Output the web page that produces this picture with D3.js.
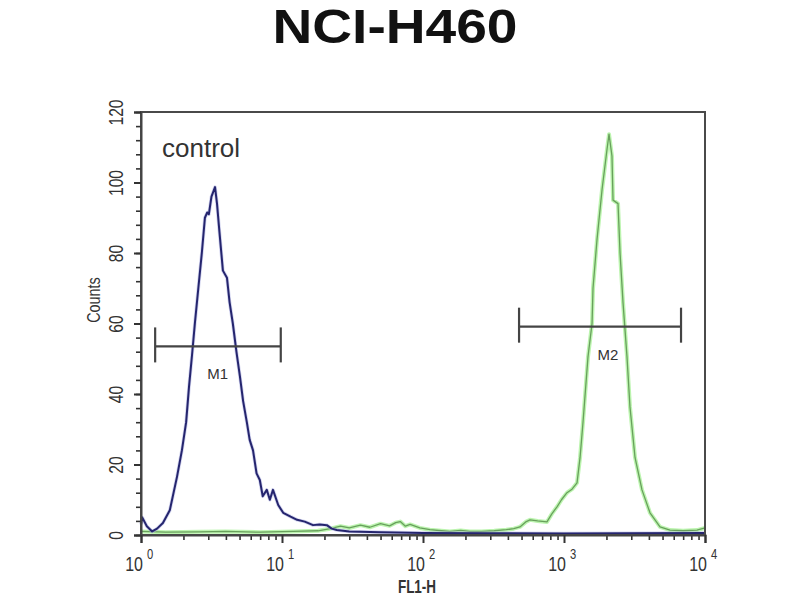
<!DOCTYPE html>
<html>
<head>
<meta charset="utf-8">
<script src="https://cdn.jsdelivr.net/npm/d3@7"></script>
<style>
  html, body { margin: 0; padding: 0; background: #fff; }
  svg { display: block; font-family: "Liberation Sans", Arial, sans-serif; }
</style>
</head>
<body>
<svg id="chart" width="800" height="600"></svg>
<script>
// ---- data ----
const title = "NCI-H460";
const xLabel = "FL1-H";
const yLabel = "Counts";
const sampleLabel = "control";

const yTicks = [0, 20, 40, 60, 80, 100, 120];
const xDecades = [1, 10, 100, 1000, 10000];
const xExponents = ["0", "1", "2", "3", "4"];

// control histogram (blue)
const controlX = [1.0, 1.02, 1.1, 1.2, 1.3, 1.43, 1.6, 1.8, 1.95, 2.09, 2.19, 2.3, 2.41, 2.55, 2.7, 2.84, 2.95, 3.03, 3.16, 3.35, 3.46, 3.6, 3.81, 4.07, 4.25, 4.48, 4.75, 5.03, 5.3, 5.63, 5.9, 6.23, 6.6, 6.96, 7.3, 7.8, 8.2, 8.63, 9.4, 10.2, 11.5, 12.8, 14.5, 16.6, 18.5, 20.8, 22.5, 24.5, 30, 50, 100, 300, 1000, 3000, 10000];
const controlY = [3, 5, 2.5, 1, 1.8, 3.4, 7, 16.5, 24, 32, 42, 51, 60, 70, 80, 90, 91.5, 91, 96, 98.7, 94, 86, 75, 73, 66, 60, 52, 45, 38, 32, 27, 24, 17.5, 15.6, 11, 12.8, 10, 12.8, 8.5, 6.3, 5.2, 4.3, 3.8, 2.8, 3.0, 2.8, 1.8, 1.4, 1.0, 0.8, 0.6, 0.5, 0.4, 0.5, 0.6];

// stained histogram (green)
const stainedX = [1.0, 1.5, 2.6, 4, 7, 12, 18, 22, 26, 30, 36, 42, 50, 58, 64, 69, 75, 81, 95, 112, 135, 155, 185, 215, 260, 320, 390, 440, 487, 540, 574, 650, 757, 820, 892, 960, 1050, 1140, 1237, 1300, 1364, 1480, 1581, 1606, 1716, 1862, 2020, 2086, 2189, 2227, 2416, 2497, 2621, 2797, 2936, 3189, 3574, 4073, 4796, 5646, 7000, 8770, 10000];
const stainedY = [1.0, 0.8, 0.9, 1.0, 0.8, 1.0, 1.2, 1.8, 2.5, 2.0, 2.8, 2.2, 3.2, 2.6, 3.5, 3.8, 2.5, 3.0, 2.0, 1.5, 1.2, 1.0, 1.3, 1.0, 1.0, 1.2, 1.5, 1.8, 2.3, 3.8, 4.3, 4.0, 3.7, 6, 8, 10, 12, 13, 14.8, 22, 32, 50.6, 60, 70, 84, 98, 109.5, 113.7, 107.5, 95, 94, 80, 66, 50.6, 36.4, 22, 12.8, 6.3, 2.3, 1.4, 1.2, 1.4, 2.0];

// gate markers
const gateNames = ["M1", "M2"];
const gateStart = [1.26, 480];
const gateEnd = [9.8, 6760];
const gateLevel = [53.5, 59.1];
const gateLabelX = [3.5, 2050];

// ---- drawing ----
const svg = d3.select("#chart");
const x = d3.scaleLog().domain([1, 10000]).range([141, 705]);
const y = d3.scaleLinear().domain([0, 120]).range([535, 112]);

// title
svg.append("text")
  .attr("x", 395).attr("y", 43)
  .attr("text-anchor", "middle")
  .attr("font-size", 48).attr("font-weight", "bold")
  .attr("textLength", 245).attr("lengthAdjust", "spacingAndGlyphs")
  .attr("fill", "#111")
  .text(title);

// curves
const lineGen = d3.line().x(d => x(d[0])).y(d => y(d[1]));
const controlData = controlX.map((v, i) => [v, controlY[i]]);
const stainedData = stainedX.map((v, i) => [v, stainedY[i]]);

svg.append("path").datum(stainedData)
  .attr("d", lineGen).attr("fill", "none")
  .attr("stroke", "#a6f094").attr("stroke-width", 4).attr("stroke-opacity", 0.75)
  .attr("stroke-linejoin", "round");
svg.append("path").datum(stainedData)
  .attr("d", lineGen).attr("fill", "none")
  .attr("stroke", "#68a05c").attr("stroke-width", 1.3)
  .attr("stroke-linejoin", "round");

svg.append("path").datum(controlData)
  .attr("d", lineGen).attr("fill", "none")
  .attr("stroke", "#b4b8e4").attr("stroke-width", 3.5).attr("stroke-opacity", 0.6)
  .attr("stroke-linejoin", "round");
svg.append("path").datum(controlData)
  .attr("d", lineGen).attr("fill", "none")
  .attr("stroke", "#25256e").attr("stroke-width", 2)
  .attr("stroke-linejoin", "round");

// frame
svg.append("rect")
  .attr("x", x(1)).attr("y", y(120))
  .attr("width", x(10000) - x(1)).attr("height", y(0) - y(120))
  .attr("fill", "none").attr("stroke", "#4a4a4a").attr("stroke-width", 2);

// y axis
const yMinor = d3.range(0, 121, 4);
svg.append("g").attr("transform", `translate(${x(1)},0)`)
  .call(d3.axisLeft(y).tickValues(yMinor).tickSize(5).tickFormat(""))
  .call(g => g.select(".domain").remove())
  .selectAll("line").attr("stroke", "#333").attr("stroke-width", 1.6);
const yAx = svg.append("g").attr("transform", `translate(${x(1)},0)`)
  .call(d3.axisLeft(y).tickValues(yTicks).tickSize(7).tickFormat(d3.format("d")));
yAx.select(".domain").attr("stroke", "#444").attr("stroke-width", 2);
yAx.selectAll("line").attr("stroke", "#333").attr("stroke-width", 2);
yAx.selectAll("text")
  .attr("x", 0).attr("y", 0).attr("dy", null)
  .attr("transform", "translate(-18,0) rotate(-90) scale(0.78,1)")
  .attr("text-anchor", "middle")
  .attr("font-size", 20).attr("fill", "#333");

// x axis
const xMinor = [];
for (let k = 0; k < 4; k++) for (let m = 2; m <= 9; m++) xMinor.push(m * Math.pow(10, k));
svg.append("g").attr("transform", `translate(0,${y(0)})`)
  .call(d3.axisBottom(x).tickValues(xMinor).tickSize(5).tickFormat(""))
  .call(g => g.select(".domain").remove())
  .selectAll("line").attr("stroke", "#333").attr("stroke-width", 1.6);
const xAx = svg.append("g").attr("transform", `translate(0,${y(0)})`)
  .call(d3.axisBottom(x).tickValues(xDecades).tickSize(8).tickFormat(""));
xAx.select(".domain").attr("stroke", "#444").attr("stroke-width", 2);
xAx.selectAll("line").attr("stroke", "#333").attr("stroke-width", 2);

xDecades.forEach((d, i) => {
  svg.append("text")
    .attr("transform", `translate(${x(d) + 2},571) scale(0.8,1)`)
    .attr("text-anchor", "end")
    .attr("font-size", 20).attr("fill", "#333")
    .text("10");
  svg.append("text")
    .attr("transform", `translate(${x(d) + 6},559) scale(0.8,1)`)
    .attr("font-size", 14).attr("fill", "#333")
    .text(xExponents[i]);
});

// axis labels
svg.append("text")
  .attr("transform", "translate(417,593) scale(0.75,1)")
  .attr("text-anchor", "middle")
  .attr("font-size", 18).attr("font-weight", "bold").attr("fill", "#333")
  .text(xLabel);
svg.append("text")
  .attr("transform", "translate(100,300) rotate(-90) scale(0.8,1)")
  .attr("text-anchor", "middle")
  .attr("font-size", 18).attr("fill", "#333")
  .text(yLabel);

// sample label
svg.append("text")
  .attr("x", 162).attr("y", 157)
  .attr("font-size", 26).attr("fill", "#333")
  .text(sampleLabel);

// gates
gateNames.forEach((name, i) => {
  const g = svg.append("g").attr("stroke", "#444").attr("stroke-width", 2.2);
  const gy = y(gateLevel[i]);
  g.append("line").attr("x1", x(gateStart[i])).attr("x2", x(gateEnd[i])).attr("y1", gy).attr("y2", gy);
  g.append("line").attr("x1", x(gateStart[i])).attr("x2", x(gateStart[i])).attr("y1", gy - 19).attr("y2", gy + 16);
  g.append("line").attr("x1", x(gateEnd[i])).attr("x2", x(gateEnd[i])).attr("y1", gy - 19).attr("y2", gy + 16);
  svg.append("text")
    .attr("x", x(gateLabelX[i])).attr("y", gy + 33)
    .attr("text-anchor", "middle")
    .attr("font-size", 15).attr("fill", "#333")
    .text(name);
});
</script>
</body>
</html>
